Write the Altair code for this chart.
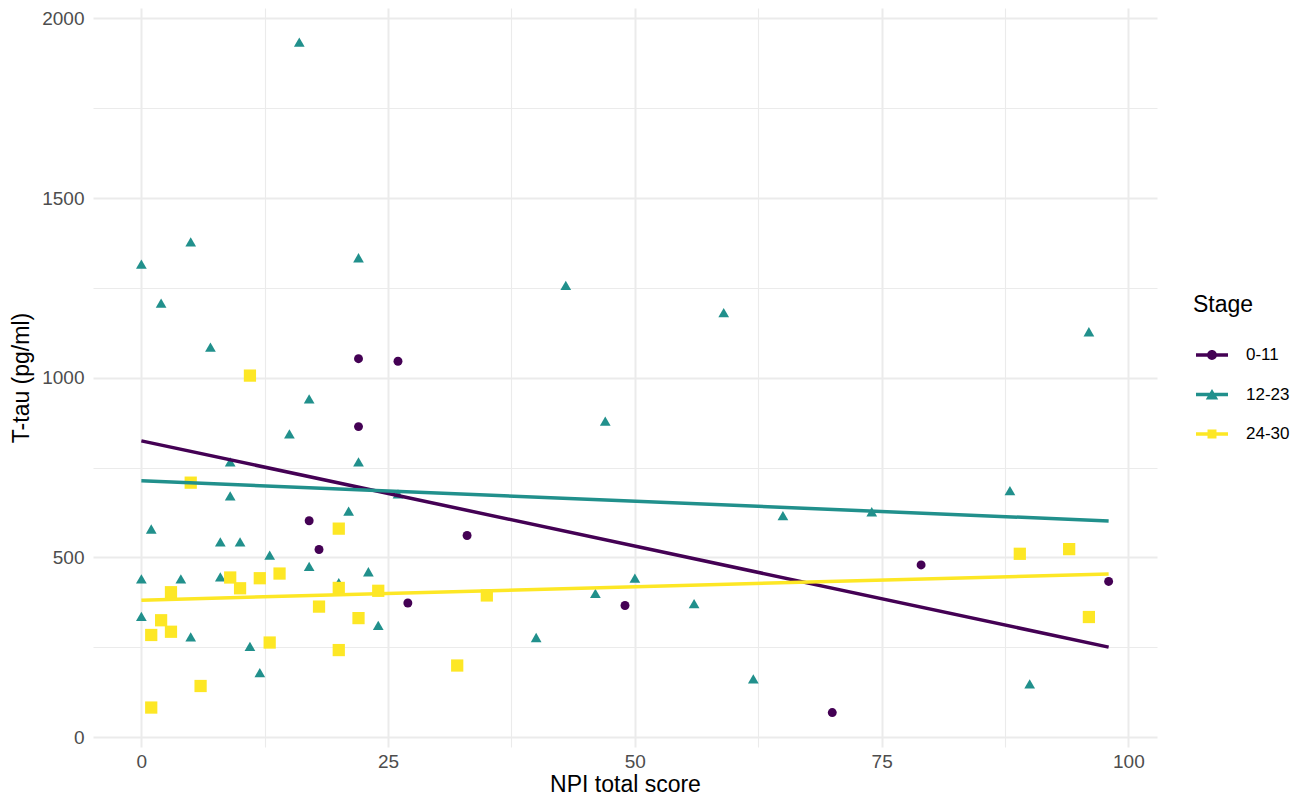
import altair as alt
import pandas as pd

FONT = "Liberation Sans"

stages = ["0-11", "12-23", "24-30"]
colors = ["#440154", "#21908C", "#FDE725"]
shapes = ["circle", "triangle-up", "square"]
sizes = [80, 150, 85]

# Stage 0-11
x_a = [17, 18, 22, 22, 26, 27, 33, 49, 70, 79, 98]
y_a = [602, 522, 1053, 864, 1046, 373, 561, 366, 68, 479, 433]

# Stage 12-23
x_b = [16, 0, 22, 2, 7, 5, 17, 15, 22, 9, 26, 9, 21, 1, 8, 10, 13, 17, 23, 0,
       4, 8, 20, 24, 0, 5, 11, 12, 43, 59, 47, 65, 46, 50, 56, 40, 62, 96, 88,
       74, 90]
y_b = [1934, 1316, 1334, 1208, 1085, 1378, 941, 844, 766, 766, 677, 671, 629,
       579, 543, 543, 506, 475, 460, 440, 440, 446, 430, 311, 336, 279, 252,
       179, 1257, 1181, 879, 616, 400, 442, 371, 277, 162, 1128, 686, 627, 148]

# Stage 24-30
x_c = [11, 5, 20, 9, 12, 14, 3, 10, 20, 24, 18, 22, 2, 1, 3, 13, 20, 6, 1, 35,
       32, 89, 94, 96]
y_c = [1006, 708, 580, 444, 442, 455, 403, 414, 415, 407, 363, 331, 325, 284,
       293, 263, 242, 142, 82, 394, 199, 510, 523, 334]

x_ticks = [0, 12.5, 25, 37.5, 50, 62.5, 75, 87.5, 100]
y_ticks = [0, 250, 500, 750, 1000, 1250, 1500, 1750, 2000]

rows = []
for st, xs, ys in zip(stages, [x_a, x_b, x_c], [y_a, y_b, y_c]):
    for xv, yv in zip(xs, ys):
        rows.append({"Stage": st, "NPI": xv, "Ttau": yv})
df = pd.DataFrame(rows)

GRID = "#EBEBEB"

x_axis = alt.Axis(
    values=x_ticks, format="d",
    labelExpr="datum.value % 25 === 0 ? datum.label : ''",
    grid=True, gridColor=GRID,
    gridWidth={"condition": {"test": "datum.value % 25 === 0", "value": 2}, "value": 1.1},
    domain=False, ticks=False, tickSize=0, labelPadding=5,
    labelFont=FONT, labelFontSize=19, labelColor="#4D4D4D",
    labelOverlap=False, labelFlush=False,
    titleFont=FONT, titleFontSize=23, titleColor="#000000",
    titleFontWeight="normal", titlePadding=2,
)
y_axis = alt.Axis(
    values=y_ticks, format="d",
    labelExpr="datum.value % 500 === 0 ? datum.label : ''",
    grid=True, gridColor=GRID,
    gridWidth={"condition": {"test": "datum.value % 500 === 0", "value": 2}, "value": 1.1},
    domain=False, ticks=False, tickSize=0, labelPadding=9,
    labelFont=FONT, labelFontSize=19, labelColor="#4D4D4D",
    labelOverlap=False, labelFlush=False,
    titleFont=FONT, titleFontSize=23, titleColor="#000000",
    titleFontWeight="normal", titlePadding=8,
)

x_enc = alt.X("NPI:Q", title="NPI total score",
              scale=alt.Scale(domain=[-4.9, 102.9], nice=False, zero=False),
              axis=x_axis)
y_enc = alt.Y("Ttau:Q", title="T-tau (pg/ml)",
              scale=alt.Scale(domain=[-27.8, 2029.2], nice=False, zero=False),
              axis=y_axis)

color_scale = alt.Scale(domain=stages, range=colors)

# legend glyphs: a line segment with the series marker on it
bar = "M-1,-0.11H1V0.11H-1Z"
key_shapes = [
    bar + "M0.31,0A0.31,0.31,0,1,1,-0.31,0A0.31,0.31,0,1,1,0.31,0Z",
    bar + "M0,-0.35L0.39,0.32L-0.39,0.32Z",
    bar + "M-0.28,-0.28H0.28V0.28H-0.28Z",
]

legend = alt.Legend(
    title="Stage", orient="none", legendX=1100, legendY=286,
    padding=0, titleFont=FONT, titleFontSize=23, titleFontWeight="normal",
    titleColor="#000000", titlePadding=22,
    labelFont=FONT, labelFontSize=17, labelColor="#000000",
    labelOffset=18, symbolOffset=3, symbolSize=1024, symbolStrokeWidth=0,
    symbolOpacity=1, rowPadding=15.5,
)

points = alt.Chart(df).mark_point(filled=True, opacity=1, strokeWidth=0).encode(
    x=x_enc,
    y=y_enc,
    color=alt.Color("Stage:N", scale=color_scale, legend=None),
    shape=alt.Shape("Stage:N", scale=alt.Scale(domain=stages, range=shapes), legend=None),
    size=alt.Size("Stage:N", scale=alt.Scale(domain=stages, range=sizes), legend=None),
)

lines = alt.Chart(df).transform_regression(
    "NPI", "Ttau", groupby=["Stage"], extent=[0, 98]
).mark_line(strokeWidth=3.5).encode(
    x=x_enc,
    y=y_enc,
    color=alt.Color("Stage:N", scale=color_scale, legend=None),
)

keys = alt.Chart(df).transform_filter("false").mark_point(
    filled=True, strokeWidth=0
).encode(
    x=x_enc,
    y=y_enc,
    color=alt.Color("Stage:N", scale=color_scale, legend=legend),
    shape=alt.Shape("Stage:N", scale=alt.Scale(domain=stages, range=key_shapes),
                    legend=legend),
)

chart = alt.layer(points, lines, keys).resolve_scale(
    color="independent", shape="independent"
).properties(
    width=1064, height=739,
    autosize=alt.AutoSizeParams(type="none"),
    padding={"left": 85, "top": 0, "right": 135, "bottom": 49},
    background="#FFFFFF",
).configure_view(stroke=None)

chart.save("out.html", embed_options={"renderer": "svg", "actions": False})
